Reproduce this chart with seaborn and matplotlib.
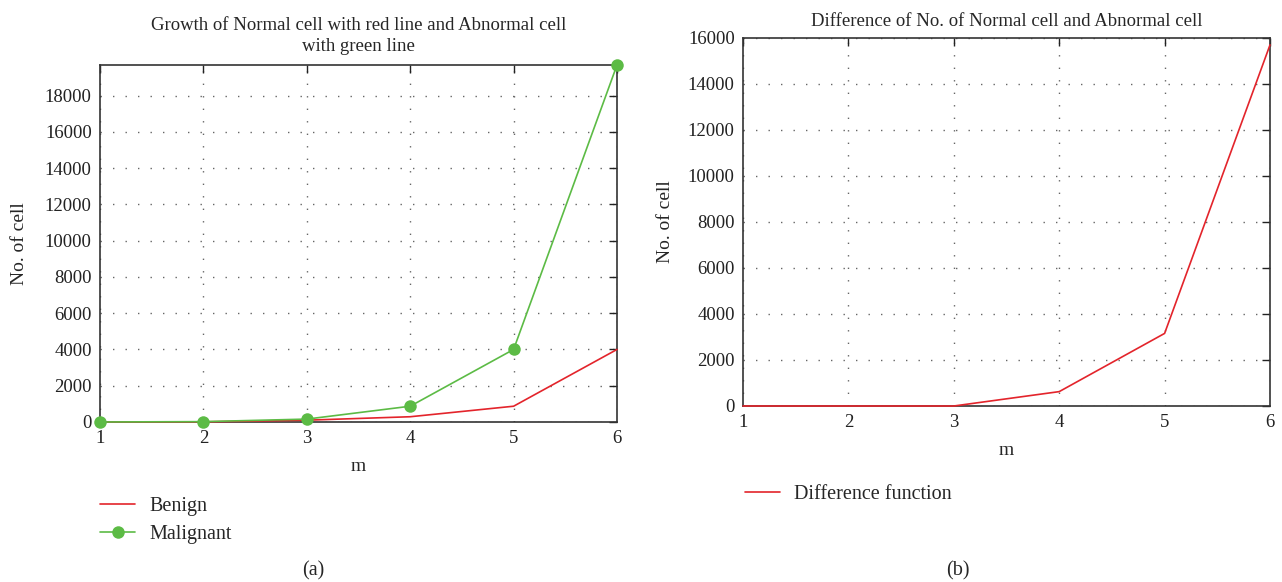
import matplotlib
matplotlib.use("Agg")
import matplotlib.pyplot as plt
import seaborn as sns
import pandas as pd

m_values = [1, 2, 3, 4, 5, 6]
benign = [1, 8, 100, 290, 870, 4000]
malignant = [1, 20, 160, 870, 4000, 19683]
difference = [0, 0, 0, 625, 3156, 15700]

left_title = "Growth of Normal cell with red line and Abnormal cell\nwith green line"
right_title = "Difference of No. of Normal cell and Abnormal cell"

sns.set_style("white")
plt.rcParams["font.family"] = ["Liberation Serif", "DejaVu Serif"]
plt.rcParams["font.size"] = 13

RED = "#e3242b"
GREEN = "#5cbb45"
W, H = 1282, 582
fig = plt.figure(figsize=(W / 100, H / 100), dpi=100)

def px_axes(x0, y0, x1, y1):
    return fig.add_axes([x0 / W, (H - y1) / H, (x1 - x0) / W, (y1 - y0) / H])

def style(ax):
    ax.grid(True, linestyle=(0, (1, 8)), color="#666666", linewidth=1.0)
    ax.tick_params(direction="in", top=True, right=True, length=6, width=1,
                   labelsize=13.5, colors="#222222", pad=6)
    for s in ax.spines.values():
        s.set_color("#333333")
        s.set_linewidth(1.2)
    ax.set_xlim(1, 6)
    ax.set_xticks(m_values)
    for ln in ax.lines:
        ln.set_clip_on(False)
        ln.set_zorder(5)

df_left = pd.DataFrame({"m": m_values, "Benign": benign, "Malignant": malignant})
df_right = pd.DataFrame({"m": m_values, "Difference function": difference})

# Left
ax1 = px_axes(100, 65, 617, 422)
sns.lineplot(data=df_left, x="m", y="Benign", ax=ax1, color=RED, linewidth=1.2, label="Benign")
sns.lineplot(data=df_left, x="m", y="Malignant", ax=ax1, color=GREEN, linewidth=1.2,
             marker="o", markersize=9, markeredgewidth=0, label="Malignant")
style(ax1)
ax1.set_ylim(0, max(malignant))
ax1.set_yticks(range(0, 18001, 2000))
ax1.set_title(left_title, fontsize=13.5, pad=10, linespacing=1.35)
ax1.set_xlabel("m", fontsize=14, labelpad=8)
ax1.set_ylabel("No. of cell", fontsize=14, labelpad=12)
ax1.legend(loc="upper left", bbox_to_anchor=(100 / W, 1 - 497 / H), bbox_transform=fig.transFigure,
           frameon=False, fontsize=14.5, handlelength=1.75, handletextpad=0.7, borderpad=0,
           borderaxespad=0, labelspacing=0.45)

# Right
ax2 = px_axes(743, 38, 1270, 406)
sns.lineplot(data=df_right, x="m", y="Difference function", ax=ax2, color=RED, linewidth=1.2,
             label="Difference function")
style(ax2)
ax2.set_ylim(0, 16000)
ax2.set_yticks(range(0, 16001, 2000))
ax2.set_title(right_title, fontsize=13.5, pad=9)
ax2.set_xlabel("m", fontsize=14, labelpad=8)
ax2.set_ylabel("No. of cell", fontsize=14, labelpad=10)
ax2.legend(loc="upper left", bbox_to_anchor=(745 / W, 1 - 485 / H), bbox_transform=fig.transFigure,
           frameon=False, fontsize=14.5, handlelength=1.75, handletextpad=0.7, borderpad=0,
           borderaxespad=0)

fig.text(313 / W, 1 - 571 / H, "(a)", ha="center", va="center", fontsize=14.5)
fig.text(958 / W, 1 - 571 / H, "(b)", ha="center", va="center", fontsize=14.5)

fig.savefig("out.png", dpi=100)
